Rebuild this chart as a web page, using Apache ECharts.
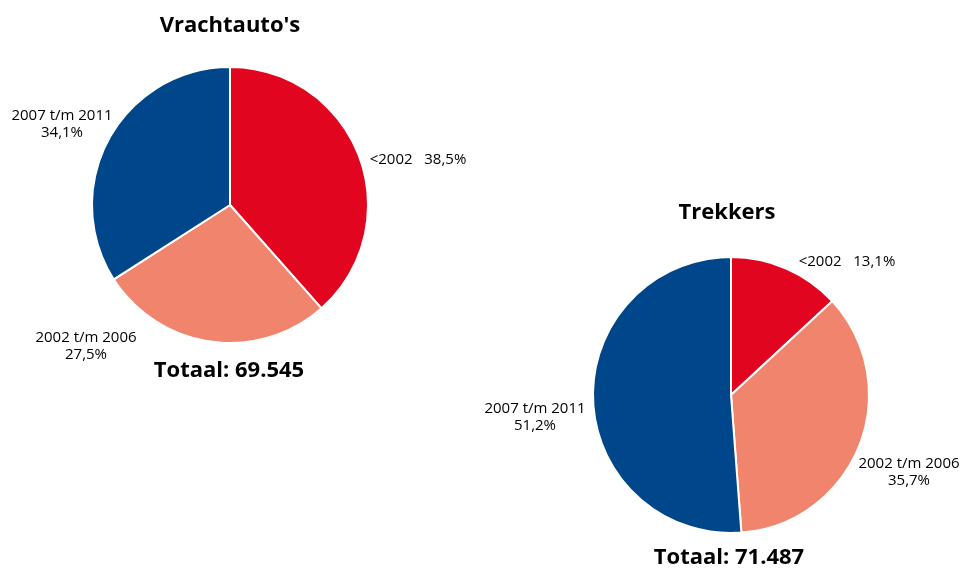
<!DOCTYPE html>
<html>
<head>
<meta charset="utf-8">
<script src="https://cdn.jsdelivr.net/npm/echarts@6/dist/echarts.min.js"></script>
<style>
  html, body { margin: 0; padding: 0; background: #fff; }
  #main { width: 966px; height: 571px; }
</style>
</head>
<body>
<div id="main"></div>
<script>
// categories in drawing order (clockwise from the top)
var categories = ['<2002', '2002 t/m 2006', '2007 t/m 2011']
var vrachtValues = [38.5, 27.5, 34.1]
var trekkerValues = [13.1, 35.7, 51.2]
var vrachtTotal = '69.545'
var trekkerTotal = '71.487'
var colors = ['#e2051f', '#f0846d', '#00468b']

// where each label sits, per slice
var vrachtLabelPos = [[418, 160], [86, 346], [62, 124]]
var trekkerLabelPos = [[847, 262], [909, 472], [535, 417]]

function labelText (p) {
  if (p.dataIndex === 0) return p.name + '   ' + p.data.txt
  return p.name + '\n' + p.data.txt
}

function toData (values) {
  return values.map(function (v, i) {
    return {
      name: categories[i],
      value: v,
      txt: v.toFixed(1).replace('.', ',') + '%',
      itemStyle: { color: colors[i] }
    }
  })
}

function layoutFor (pos) {
  return function (params) {
    return {
      x: pos[params.dataIndex][0],
      y: pos[params.dataIndex][1],
      align: 'center',
      verticalAlign: 'middle'
    }
  }
}

var font = '"Open Sans", "Noto Sans", sans-serif'
var labelStyle = {
  show: true,
  formatter: labelText,
  color: '#000',
  fontSize: 15,
  lineHeight: 17,
  fontFamily: font,
  align: 'center',
  overflow: 'none'
}
var titleStyle = { fontSize: 22, fontWeight: 'bold', color: '#000', fontFamily: font }

var myChart = echarts.init(document.getElementById('main'))
myChart.setOption({
  animation: false,
  title: [
    { text: "Vrachtauto's", left: 225, top: 10, textAlign: 'center', textStyle: titleStyle },
    { text: 'Totaal: ' + vrachtTotal, left: 224, top: 355, textAlign: 'center', textStyle: titleStyle },
    { text: 'Trekkers', left: 722, top: 197, textAlign: 'center', textStyle: titleStyle },
    { text: 'Totaal: ' + trekkerTotal, left: 724, top: 542, textAlign: 'center', textStyle: titleStyle }
  ],
  series: [
    {
      type: 'pie',
      center: [230, 205],
      radius: 138,
      startAngle: 90,
      clockwise: true,
      itemStyle: { borderColor: '#fff', borderWidth: 2 },
      label: labelStyle,
      labelLine: { show: false },
      labelLayout: layoutFor(vrachtLabelPos),
      emphasis: { disabled: true },
      data: toData(vrachtValues)
    },
    {
      type: 'pie',
      center: [731, 395],
      radius: 138,
      startAngle: 90,
      clockwise: true,
      itemStyle: { borderColor: '#fff', borderWidth: 2 },
      label: labelStyle,
      labelLine: { show: false },
      labelLayout: layoutFor(trekkerLabelPos),
      emphasis: { disabled: true },
      data: toData(trekkerValues)
    }
  ]
})
</script>
</body>
</html>
